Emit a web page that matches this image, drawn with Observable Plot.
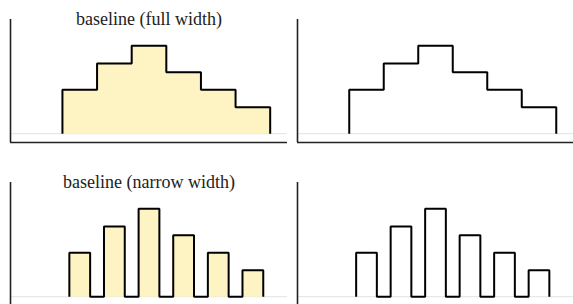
<!DOCTYPE html>
<html>
<head>
<meta charset="utf-8">
<script src="https://cdn.jsdelivr.net/npm/d3@7"></script>
<script src="https://cdn.jsdelivr.net/npm/@observablehq/plot@0.6"></script>
<style>
  body { margin: 0; background: #fff; }
  #grid { display: grid; grid-template-columns: 287px 286px; row-gap: 13px; width: 573px; }
  #grid svg { display: block; }
</style>
</head>
<body>
<div id="grid"></div>
<script>
// Data
const bins = [0, 1, 2, 3, 4, 5];
const values = [2.5, 4, 5, 3.5, 2.5, 1.5];
const titles = ["baseline (full width)", "baseline (narrow width)"];
const xDomain = [-1.5, 6.5];
const yDomain = [-0.5, 6.5];
const fillColor = "#fdf3c3";

function fullOutline() {
  const pts = [{x: bins[0], y: 0}];
  bins.forEach((b, i) => {
    pts.push({x: b, y: values[i]});
    pts.push({x: b + 1, y: values[i]});
  });
  pts.push({x: bins[bins.length - 1] + 1, y: 0});
  return pts;
}
function narrowOutline(inset) {
  const pts = [];
  bins.forEach((b, i) => {
    pts.push({x: b + inset, y: 0});
    pts.push({x: b + inset, y: values[i]});
    pts.push({x: b + 1 - inset, y: values[i]});
    pts.push({x: b + 1 - inset, y: 0});
  });
  return pts;
}
const rects = (inset) => bins.map((b, i) => ({x1: b + inset, x2: b + 1 - inset, y: values[i]}));

function panel(width, narrow, filled, title) {
  const inset = narrow ? 0.2 : 0;
  const marks = [
    Plot.ruleY([0], {stroke: "#e8e8e8", strokeWidth: 1.2}),
  ];
  if (filled) marks.push(Plot.rectY(rects(inset), {
    x1: "x1", x2: "x2", y: "y", fill: fillColor, stroke: fillColor, strokeWidth: 0.6
  }));
  marks.push(Plot.line(narrow ? narrowOutline(inset) : fullOutline(), {
    x: "x", y: "y", stroke: "#000", strokeWidth: 2, strokeLinejoin: "miter", strokeLinecap: "butt"
  }));
  marks.push(Plot.ruleX([xDomain[0]], {stroke: "#222", strokeWidth: 1.6}));
  marks.push(Plot.ruleY([yDomain[0]], {stroke: "#222", strokeWidth: 1.6}));
  if (title) marks.push(Plot.text([title], {
    text: d => d, frameAnchor: "top", lineAnchor: "middle",
    fontFamily: "Liberation Serif", fontSize: 18, fill: "#222"
  }));
  return Plot.plot({
    width, height: 150,
    marginLeft: 10, marginRight: 0, marginTop: 19, marginBottom: 8,
    x: {domain: xDomain, axis: null},
    y: {domain: yDomain, axis: null},
    style: {background: "transparent", overflow: "visible"},
    marks
  });
}

const grid = document.getElementById("grid");
grid.append(panel(287, false, true, titles[0]));
grid.append(panel(286, false, false, null));
grid.append(panel(287, true, true, titles[1]));
grid.append(panel(286, true, false, null));
</script>
</body>
</html>
